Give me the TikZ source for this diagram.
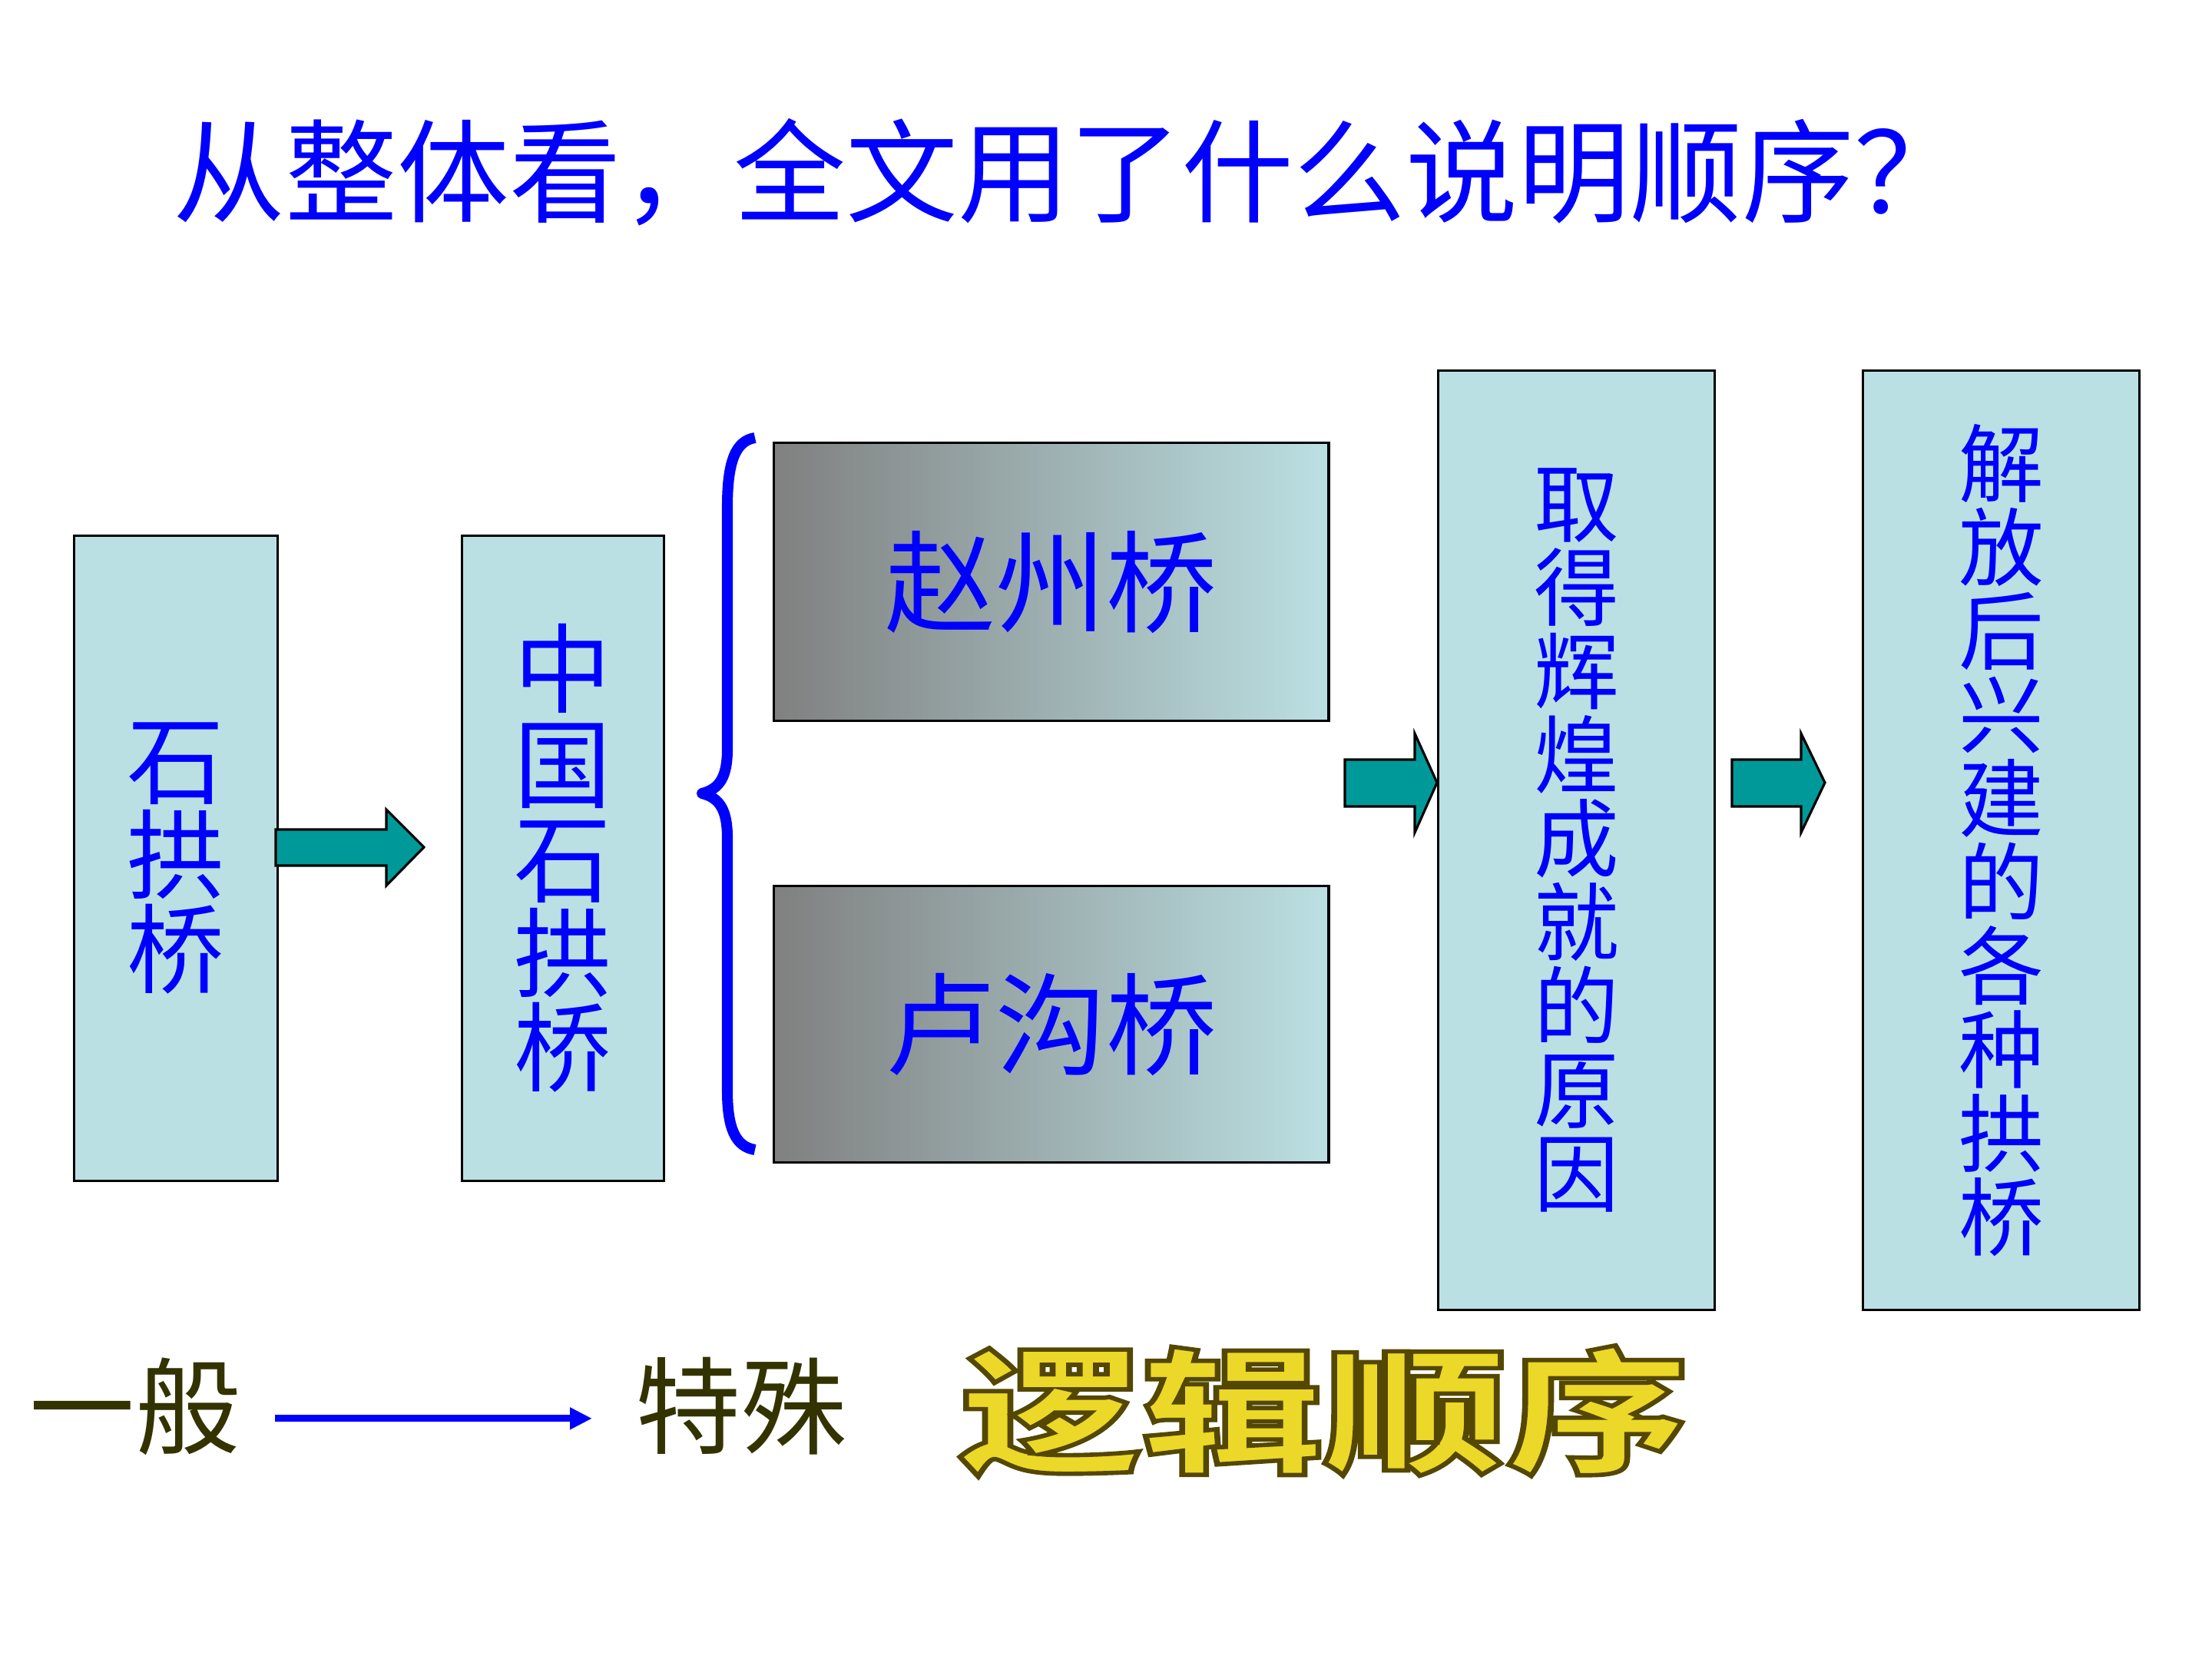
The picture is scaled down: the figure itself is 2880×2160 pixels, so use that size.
\documentclass[tikz,border=0pt]{standalone}
\usepackage{fontspec}
\setmainfont{Noto Sans CJK SC}
\newfontfamily\cjk{Noto Sans CJK SC}
\usetikzlibrary{arrows.meta}
\definecolor{boxfill}{RGB}{187,224,227}
\definecolor{tealarrow}{RGB}{0,153,153}
\definecolor{txtblue}{RGB}{0,0,255}
\definecolor{olivetext}{RGB}{51,51,0}
\definecolor{goldtop}{RGB}{236,216,40}
\definecolor{grayleft}{RGB}{128,128,128}
\begin{document}
\begin{tikzpicture}[x=0.01cm,y=-0.01cm,
  lbox/.style={draw=black,line width=0.9pt,fill=boxfill,inner sep=0pt,anchor=north west,text=txtblue,align=center},
  gbox/.style={draw=black,line width=0.9pt,left color=grayleft,right color=boxfill,inner sep=0pt,anchor=north west,text=txtblue,font=\fontsize{41}{41}\selectfont},
  bigv/.style={font=\fontsize{36}{35}\selectfont},
  smallv/.style={font=\fontsize{31.5}{31}\selectfont},
  blockarrow/.style={draw=black,line width=0.9pt,fill=tealarrow,line join=miter},
  bottomtxt/.style={text=olivetext,font=\fontsize{39}{39}\selectfont,inner sep=0pt},
  logictxt/.style={font=\fontsize{50}{50}\selectfont\bfseries,xscale=1.35,inner sep=0pt},
]
\useasboundingbox[fill=white] (0,0) rectangle (2880,2160);

% title
\node[text=txtblue,font=\fontsize{41.5}{48}\selectfont] (title) at (1393,224) {从整体看，全文用了什么说明顺序？};

% boxes
\node[lbox,bigv,minimum width=2.65cm,minimum height=8.39cm] (b1) at (95,696) {石\\拱\\桥};
\node[lbox,bigv,minimum width=2.63cm,minimum height=8.39cm] (b2) at (600,696) {中\\国\\石\\拱\\桥};
\node[gbox,minimum width=7.22cm,minimum height=3.62cm] (g1) at (1006,575) {赵州桥};
\node[gbox,minimum width=7.22cm,minimum height=3.60cm] (g2) at (1006,1152) {卢沟桥};
\node[lbox,smallv,minimum width=3.60cm,minimum height=12.22cm] (b4) at (1871,481) {取\\得\\辉\\煌\\成\\就\\的\\原\\因};
\node[lbox,smallv,minimum width=3.60cm,minimum height=12.22cm] (b5) at (2424,481) {解\\放\\后\\兴\\建\\的\\各\\种\\拱\\桥};

% block arrows
\draw[blockarrow] (359,1080) -- (503,1080) -- (503,1054) -- (552,1103) -- (503,1153) -- (503,1127) -- (359,1127) -- cycle;
\draw[blockarrow] (1751,989) -- (1842,989) -- (1842,955) -- (1871,1019) -- (1842,1084) -- (1842,1050) -- (1751,1050) -- cycle;
\draw[blockarrow] (2255,989) -- (2345,989) -- (2345,955) -- (2376,1019) -- (2345,1084) -- (2345,1050) -- (2255,1050) -- cycle;

% brace
\draw[txtblue,line width=4pt,line join=round] (983,570) .. controls (958,574) and (947,600) .. (947,660) -- (947,975) .. controls (947,1010) and (938,1027) .. (914,1033) .. controls (938,1039) and (947,1056) .. (947,1091) -- (947,1420) .. controls (947,1470) and (958,1493) .. (983,1497);

% bottom line
\node[bottomtxt] (gen) at (176,1831) {一般};
\node[bottomtxt] (spec) at (965,1831) {特殊};
\draw[txtblue,line width=2.6pt,-{Triangle[length=8.2pt,width=7.7pt]},shorten <=12.5pt,shorten >=16pt] ([yshift=-4.5pt]gen.east) -- ([yshift=-4.5pt]spec.west);

\node[logictxt,text=goldtop] (logic) at (1724,1837) {\special{pdf:literal direct 2 Tr 1.6 w 0.33 0.28 0 RG}逻辑顺序\special{pdf:literal direct 0 Tr}};
\end{tikzpicture}
\end{document}
